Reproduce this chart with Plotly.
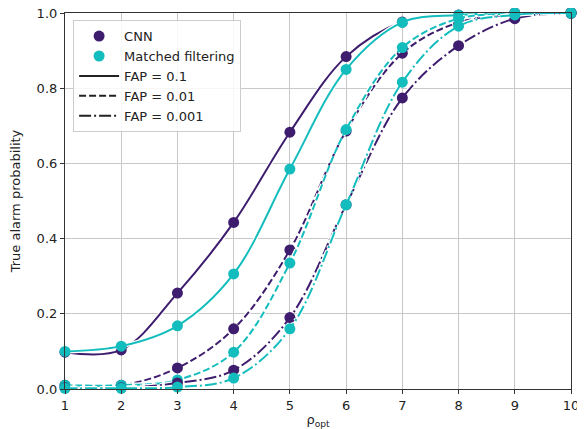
import plotly.graph_objects as go

rho = [1, 2, 3, 4, 5, 6, 7, 8, 9, 10]

cnn_fap_0_1 = [0.098, 0.104, 0.255, 0.443, 0.683, 0.884, 0.976, 0.995, 1.0, 1.0]
mf_fap_0_1 = [0.100, 0.114, 0.168, 0.306, 0.585, 0.850, 0.975, 0.995, 1.0, 1.0]
cnn_fap_0_01 = [0.010, 0.010, 0.056, 0.160, 0.370, 0.686, 0.893, 0.975, 0.995, 1.0]
mf_fap_0_01 = [0.010, 0.010, 0.024, 0.098, 0.335, 0.690, 0.908, 0.985, 0.998, 1.0]
cnn_fap_0_001 = [0.003, 0.003, 0.016, 0.050, 0.190, 0.490, 0.774, 0.913, 0.985, 1.0]
mf_fap_0_001 = [0.002, 0.002, 0.005, 0.029, 0.160, 0.490, 0.816, 0.965, 0.995, 1.0]

fap_labels = ["FAP = 0.1", "FAP = 0.01", "FAP = 0.001"]
method_labels = ["CNN", "Matched filtering"]

PURPLE = "#3e1c6e"
TEAL = "#14bdbd"

DASH = "7px,3px"
DASHDOT = "12px,3px,2px,3px"

fig = go.Figure()

series = [
    (cnn_fap_0_1, PURPLE, "solid"),
    (mf_fap_0_1, TEAL, "solid"),
    (cnn_fap_0_01, PURPLE, DASH),
    (mf_fap_0_01, TEAL, DASH),
    (cnn_fap_0_001, PURPLE, DASHDOT),
    (mf_fap_0_001, TEAL, DASHDOT),
]

for ys, col, dash in series:
    fig.add_trace(go.Scatter(x=rho, y=ys, mode="lines",
                             line=dict(color="white", width=4.5, dash=dash, shape="spline", smoothing=1.0),
                             showlegend=False, hoverinfo="skip", cliponaxis=False))
    fig.add_trace(go.Scatter(x=rho, y=ys, mode="lines+markers",
                             line=dict(color=col, width=2, dash=dash, shape="spline", smoothing=1.0),
                             marker=dict(color=col, size=11),
                             showlegend=False, cliponaxis=False))

# legend entries
fig.add_trace(go.Scatter(x=[None], y=[None], mode="markers", name=method_labels[0],
                         marker=dict(color=PURPLE, size=11)))
fig.add_trace(go.Scatter(x=[None], y=[None], mode="markers", name=method_labels[1],
                         marker=dict(color=TEAL, size=11)))
for lab, dash in zip(fap_labels, ["solid", DASH, DASHDOT]):
    fig.add_trace(go.Scatter(x=[None], y=[None], mode="lines", name=lab,
                             line=dict(color="#222222", width=2, dash=dash)))

axis_common = dict(
    showgrid=True, gridcolor="#c8c8c8", gridwidth=1,
    showline=True, linecolor="#333333", linewidth=1.2, mirror=True,
    ticks="outside", ticklen=4, tickcolor="#333333",
    zeroline=False, automargin=False, ticklabeloverflow="allow",
    tickfont=dict(family="DejaVu Sans", size=13, color="#222222"),
)

fig.update_xaxes(range=[1, 10], tickvals=rho, ticktext=[str(v) for v in rho],
                 title=dict(text="ρ<sub>opt</sub>", font=dict(family="DejaVu Sans", size=13, color="#222222")),
                 **axis_common)
fig.update_yaxes(range=[0, 1], tickvals=[0, 0.2, 0.4, 0.6, 0.8, 1.0],
                 ticktext=["0.0", "0.2", "0.4", "0.6", "0.8", "1.0"],
                 title=dict(text="True alarm probability", font=dict(family="DejaVu Sans", size=13, color="#222222")),
                 **axis_common)

fig.update_layout(
    width=577, height=421,
    margin=dict(l=57, r=14, t=5, b=40),
    paper_bgcolor="white", plot_bgcolor="white",
    font=dict(family="DejaVu Sans", size=13, color="#222222"),
    legend=dict(x=0.016, y=0.981, xanchor="left", yanchor="top",
                bgcolor="rgba(255,255,255,0.85)", bordercolor="#cccccc", borderwidth=1,
                font=dict(family="DejaVu Sans", size=13, color="#222222"),
                tracegroupgap=0, itemwidth=40),
    showlegend=True,
)

fig.write_html("out.html")
